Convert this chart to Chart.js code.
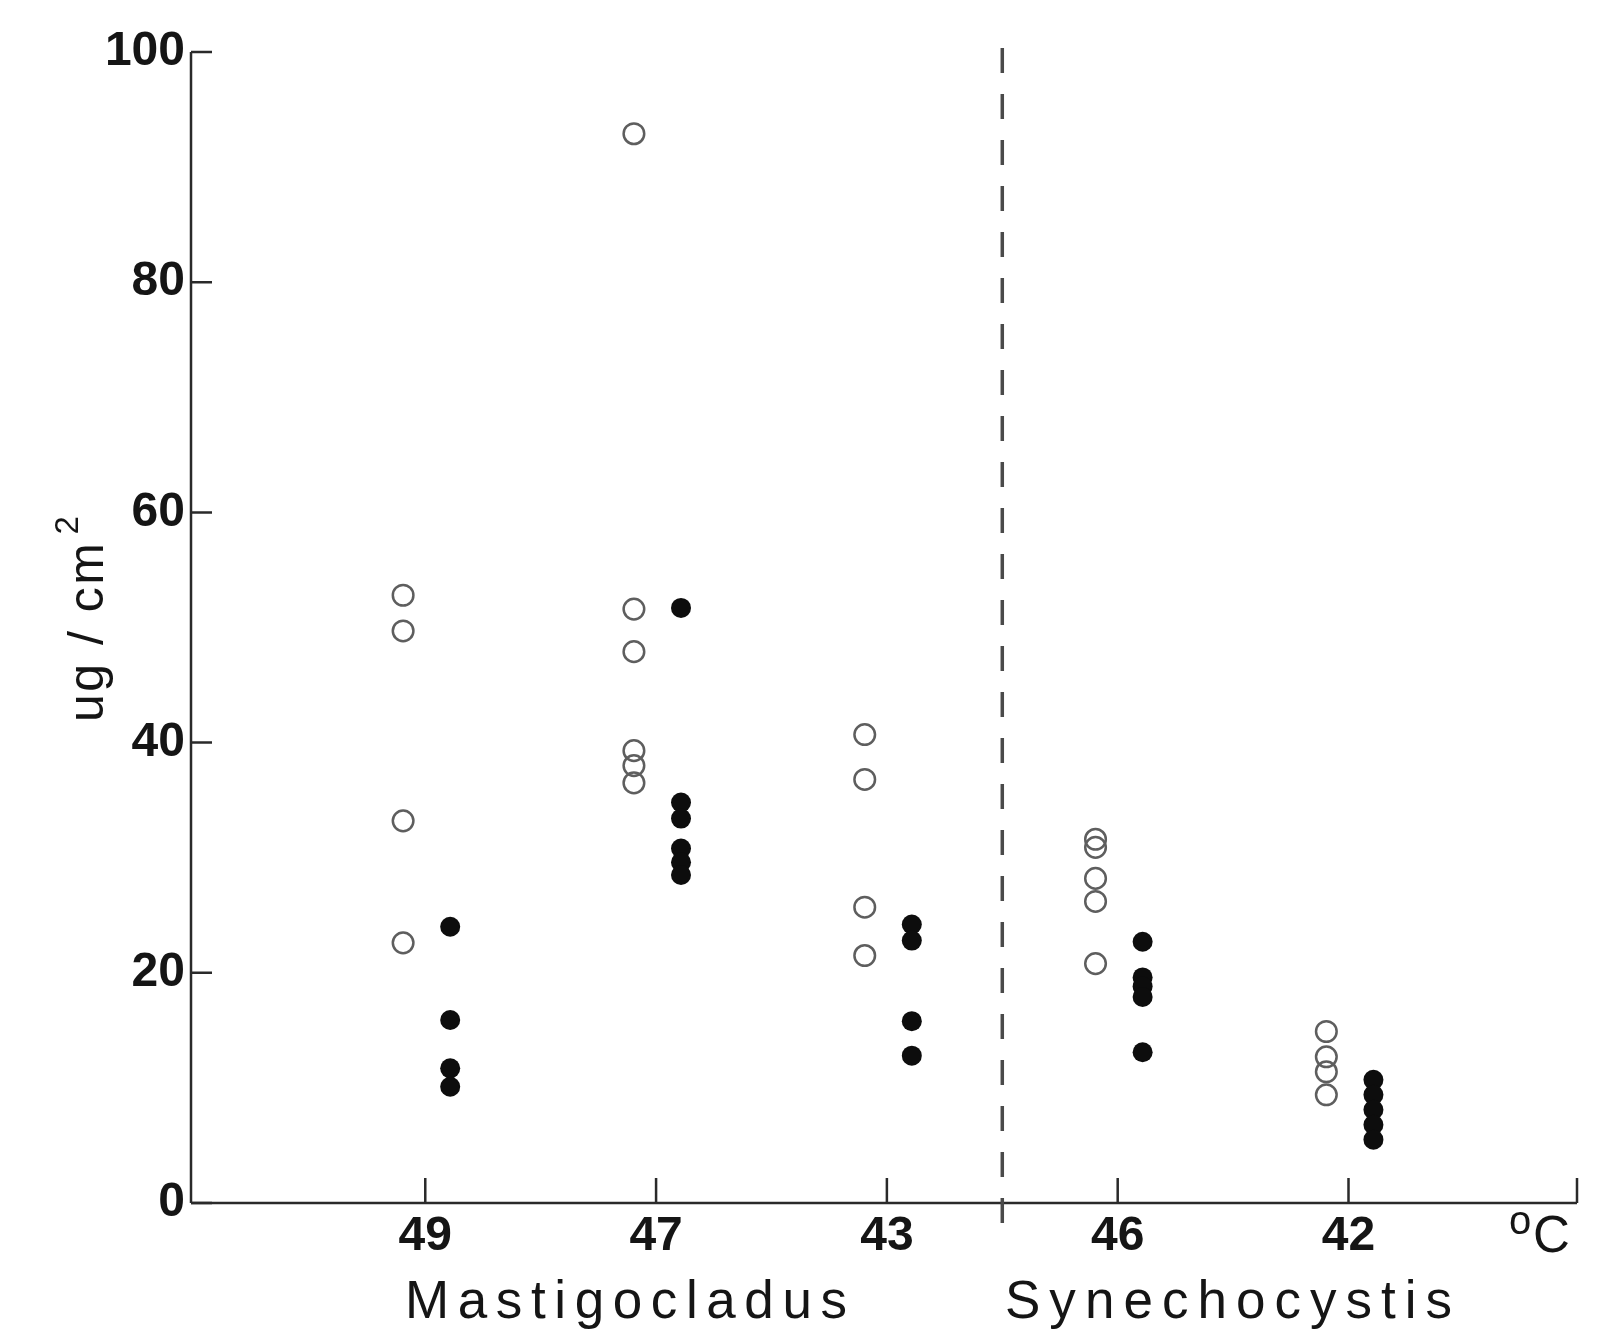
<!DOCTYPE html>
<html>
<head>
<meta charset="utf-8">
<script src="https://cdn.jsdelivr.net/npm/chart.js@4/dist/chart.umd.min.js"></script>
<style>
  html, body { margin: 0; padding: 0; background: #fff; }
  #wrap { width: 1605px; height: 1331px; position: relative; }
</style>
</head>
<body>
<div id="wrap"><canvas id="c" width="1605" height="1331"></canvas></div>
<script>
// ---- data ----
const categories = ['49', '47', '43', '46', '42'];          // temperature (°C)
const groupNames = ['Mastigocladus', 'Synechocystis'];
const groupOf = [0, 0, 0, 1, 1];
// open circles (µg/cm²)
const openValues = [
  [52.8, 49.7, 33.2, 22.6],
  [92.9, 51.6, 47.9, 39.3, 38.0, 36.5],
  [40.7, 36.8, 25.7, 21.5],
  [31.6, 30.9, 28.2, 26.2, 20.8],
  [14.9, 12.7, 11.4, 9.4]
];
// filled circles (µg/cm²)
const filledValues = [
  [24.0, 15.9, 11.7, 10.1],
  [51.7, 34.8, 33.4, 30.8, 29.6, 28.5],
  [24.2, 22.8, 15.8, 12.8],
  [22.7, 19.6, 18.8, 17.9, 13.1],
  [10.7, 9.4, 8.1, 6.8, 5.5]
];
const yMin = 0, yMax = 100, yStep = 20;
const axisUnit = '°C';
const yTitle = 'ug / cm';
const yTitleSup = '2';

// ---- build datasets ----
const OPEN_OFFSET = -0.096, FILLED_OFFSET = 0.108;
const catPos = categories.map((_, i) => i + 1);
const openPts = [], filledPts = [];
openValues.forEach((arr, i) => arr.forEach(v => openPts.push({ x: catPos[i] + OPEN_OFFSET, y: v })));
filledValues.forEach((arr, i) => arr.forEach(v => filledPts.push({ x: catPos[i] + FILLED_OFFSET, y: v })));

const FONT = "'Liberation Sans', Arial, Helvetica, sans-serif";
const INK = '#151515';

const bgPlugin = {
  id: 'bg',
  beforeDraw(chart) {
    const ctx = chart.ctx;
    ctx.save();
    ctx.fillStyle = '#fff';
    ctx.fillRect(0, 0, chart.width, chart.height);
    ctx.restore();
  }
};

const axesPlugin = {
  id: 'axes',
  beforeDatasetsDraw(chart) {
    const ctx = chart.ctx;
    const xs = chart.scales.x, ys = chart.scales.y;
    const x0 = xs.getPixelForValue(xs.min), x1 = xs.getPixelForValue(xs.max);
    const y0 = ys.getPixelForValue(yMin), y1 = ys.getPixelForValue(yMax);
    ctx.save();
    ctx.strokeStyle = '#2a2a2a';
    ctx.lineWidth = 2.5;
    ctx.lineCap = 'butt';
    ctx.beginPath();
    ctx.moveTo(x0, y1); ctx.lineTo(x0, y0);
    ctx.moveTo(x0, y0); ctx.lineTo(x1, y0);
    ctx.stroke();
    ctx.beginPath();
    for (let v = yMin; v <= yMax; v += yStep) {
      const p = ys.getPixelForValue(v);
      ctx.moveTo(x0, p); ctx.lineTo(x0 + 21, p);
    }
    catPos.concat([xs.max]).forEach(v => {
      const p = xs.getPixelForValue(v);
      ctx.moveTo(p, y0); ctx.lineTo(p, y0 - 25);
    });
    ctx.stroke();
    // dashed separator between the two organisms
    const sepVal = (catPos[groupOf.lastIndexOf(0)] + catPos[groupOf.indexOf(1)]) / 2;
    const sx = xs.getPixelForValue(sepVal);
    ctx.strokeStyle = '#4a4a4a';
    ctx.lineWidth = 3.5;
    ctx.setLineDash([25, 21]);
    ctx.beginPath();
    ctx.moveTo(sx, y1 - 4); ctx.lineTo(sx, y0 + 34);
    ctx.stroke();
    ctx.setLineDash([]);
    ctx.restore();
  },
  afterDraw(chart) {
    const ctx = chart.ctx;
    ctx.save();
    ctx.fillStyle = INK;
    const groupSpans = [[405, 847], [1005, 1452]];
    groupNames.forEach((name, g) => {
      ctx.font = '53px ' + FONT;
      ctx.letterSpacing = '0px';
      const w = ctx.measureText(name).width;
      const [a, b] = groupSpans[g];
      const sp = ((b - a) - w) / (name.length - 1);
      ctx.letterSpacing = sp + 'px';
      ctx.textAlign = 'left';
      ctx.textBaseline = 'alphabetic';
      ctx.fillText(name, a, 1318);
    });
    ctx.letterSpacing = '0px';
    // unit °C at the end of the x axis
    ctx.textAlign = 'left';
    ctx.textBaseline = 'alphabetic';
    ctx.font = '40px ' + FONT;
    ctx.fillText('o', 1509, 1234);
    ctx.font = '51px ' + FONT;
    ctx.fillText(axisUnit.replace('°', ''), 1533, 1252);
    // y title, rotated
    ctx.save();
    ctx.translate(103, 722);
    ctx.rotate(-Math.PI / 2);
    ctx.font = '50px ' + FONT;
    ctx.letterSpacing = '2.5px';
    ctx.fillText(yTitle, 0, 0);
    const tw = ctx.measureText(yTitle).width;
    ctx.letterSpacing = '0px';
    ctx.font = '33px ' + FONT;
    ctx.fillText(yTitleSup, tw + 6, -25);
    ctx.restore();
    ctx.restore();
  }
};

new Chart(document.getElementById('c'), {
  type: 'scatter',
  data: {
    datasets: [
      {
        label: 'open',
        data: openPts,
        pointStyle: 'circle',
        pointRadius: 10.3,
        pointBorderWidth: 2.5,
        pointBorderColor: '#5e5e5e',
        pointBackgroundColor: 'rgba(255,255,255,0)',
        showLine: false
      },
      {
        label: 'filled',
        data: filledPts,
        pointStyle: 'circle',
        pointRadius: 10,
        pointBorderWidth: 0,
        pointBackgroundColor: '#0d0d0d',
        pointBorderColor: '#0d0d0d',
        showLine: false
      }
    ]
  },
  options: {
    responsive: false,
    animation: false,
    events: [],
    layout: { padding: { left: 0, top: 52, right: 28, bottom: 0 } },
    plugins: { legend: { display: false }, tooltip: { enabled: false }, title: { display: false } },
    scales: {
      x: {
        type: 'linear',
        min: -0.015,
        max: categories.length + 0.99,
        grid: { display: false, drawTicks: false },
        border: { display: false },
        afterBuildTicks: (scale) => { scale.ticks = catPos.map(v => ({ value: v })); },
        afterFit: (scale) => { scale.height = 128; },
        ticks: {
          autoSkip: false,
          maxRotation: 0,
          padding: 5,
          color: INK,
          font: { family: FONT, size: 48, weight: 'bold' },
          callback: (v) => categories[Math.round(v) - 1] ?? ''
        }
      },
      y: {
        type: 'linear',
        min: yMin,
        max: yMax,
        grid: { display: false, drawTicks: false },
        border: { display: false },
        afterFit: (scale) => { scale.width = 191; },
        ticks: {
          stepSize: yStep,
          padding: 6,
          color: INK,
          font: { family: FONT, size: 48, weight: 'bold' }
        }
      }
    }
  },
  plugins: [bgPlugin, axesPlugin]
});
</script>
</body>
</html>
